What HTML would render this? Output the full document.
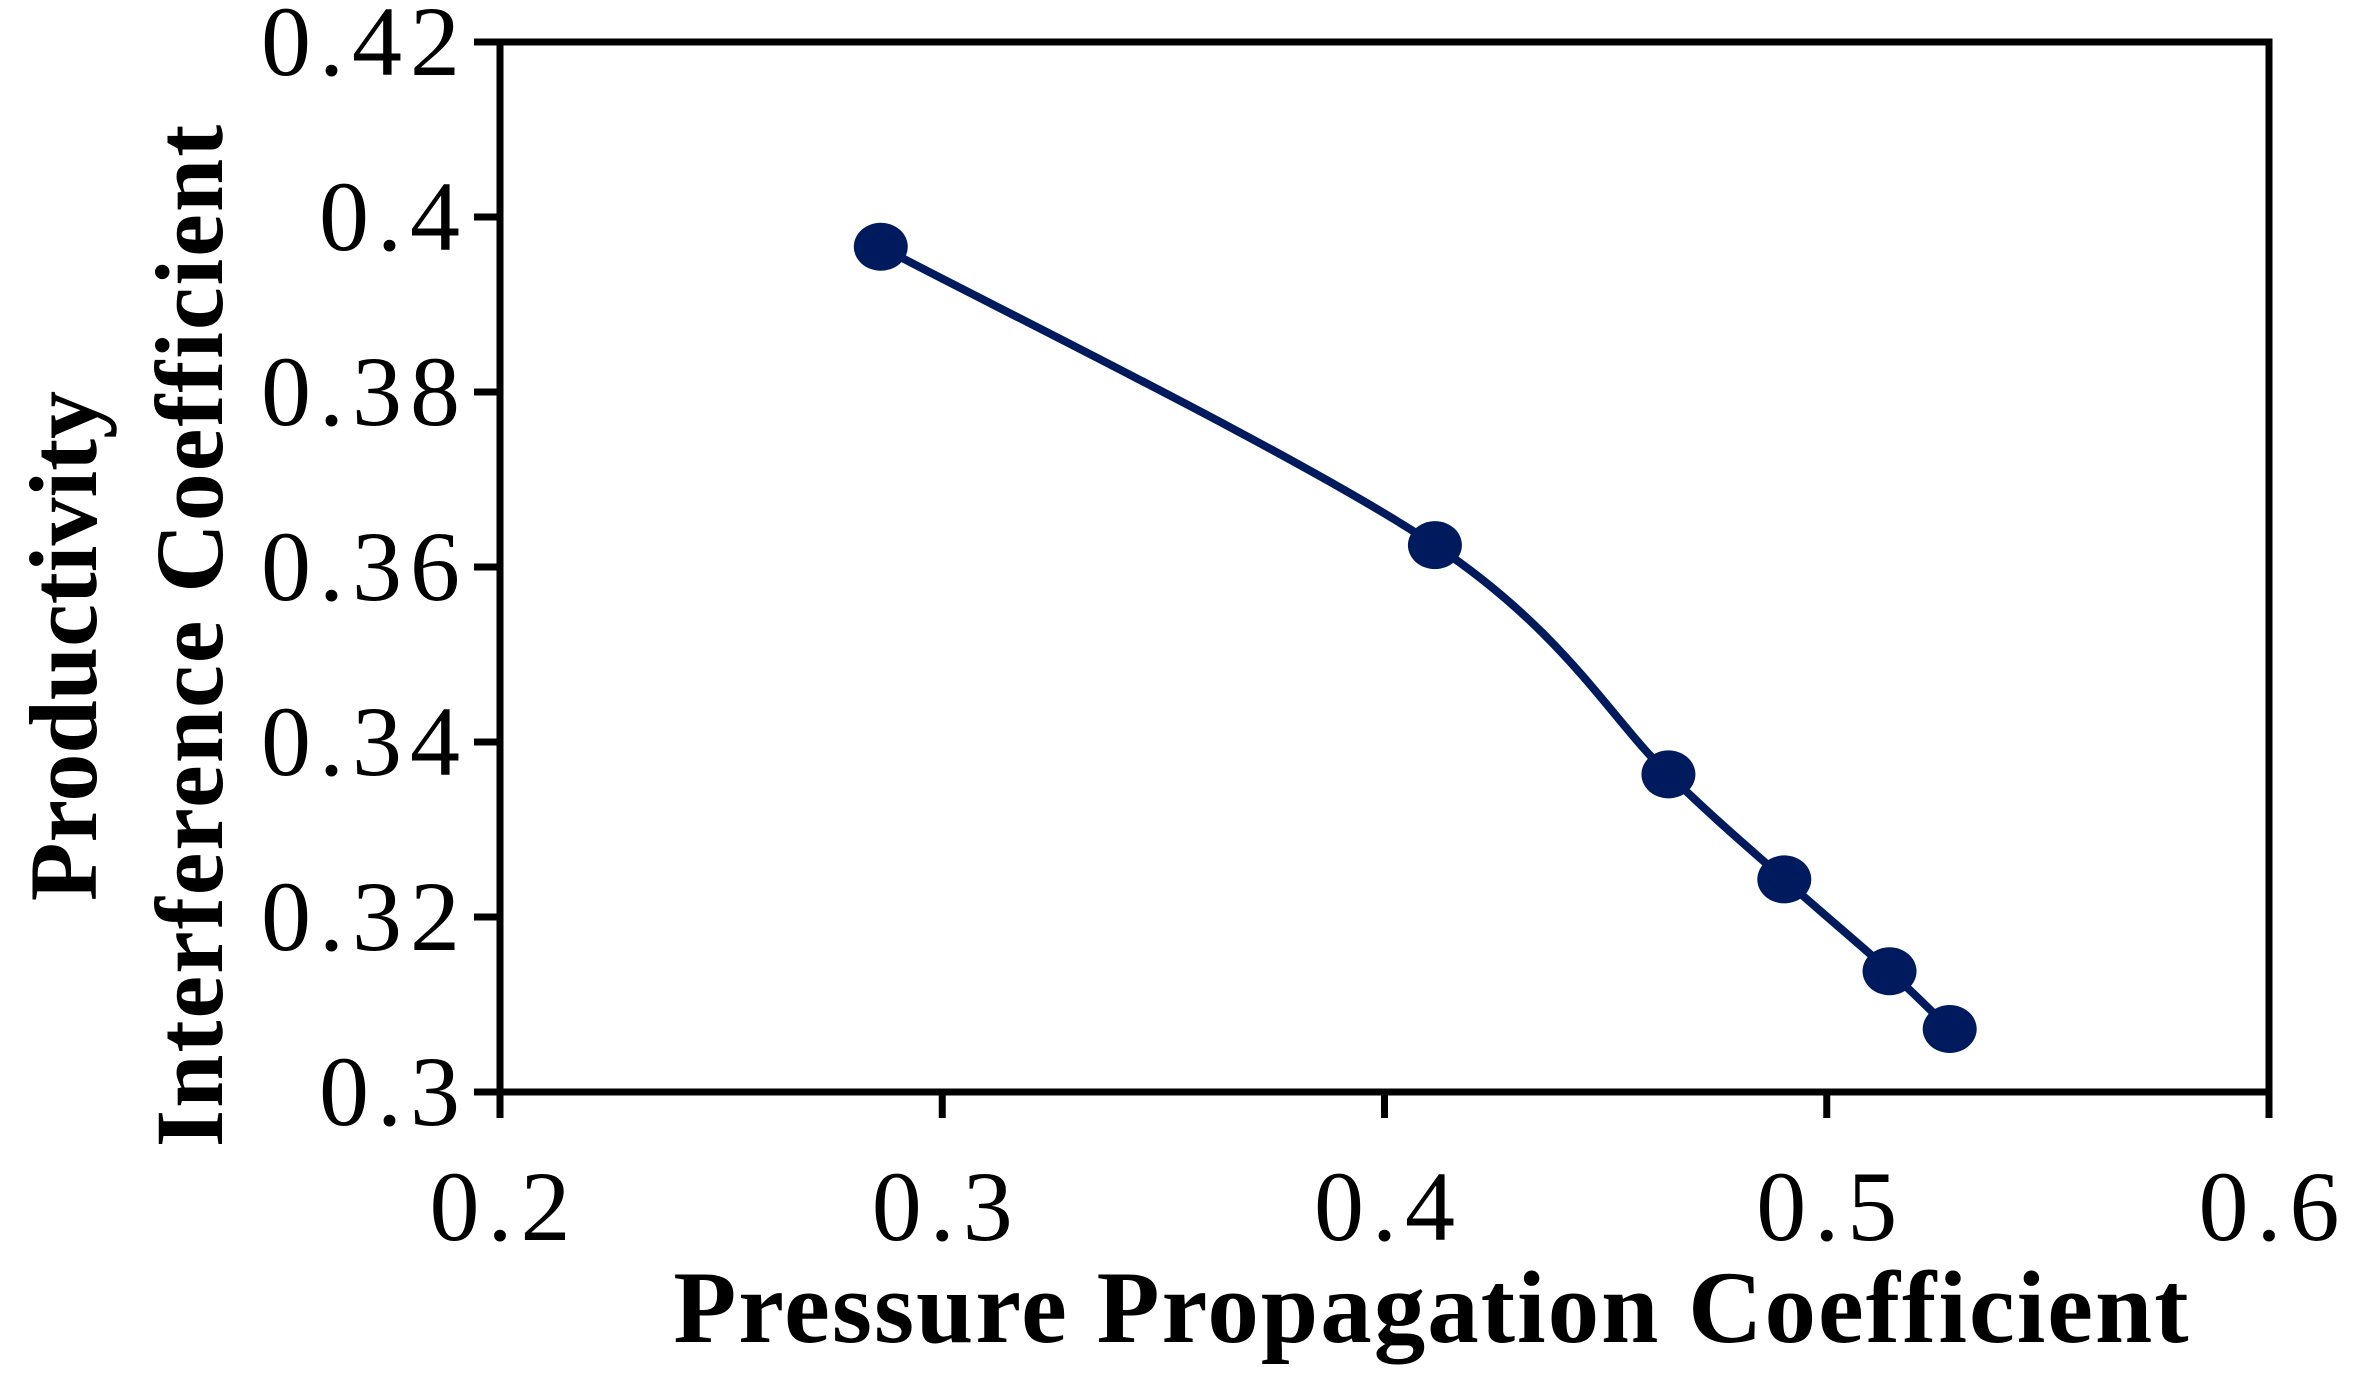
<!DOCTYPE html>
<html><head><meta charset="utf-8"><style>
html,body{margin:0;padding:0;background:#fff;}
svg{display:block;}
</style></head><body>
<svg id="chart" width="2361" height="1386" xmlns="http://www.w3.org/2000/svg" font-family="'Liberation Serif', serif">
<g id="axes"></g>
<g id="series"></g>
<text x="1432" y="1342" text-anchor="middle" font-size="103" font-weight="bold" letter-spacing="2">Pressure Propagation Coefficient</text>
<text transform="translate(96,646) rotate(-90)" text-anchor="middle" font-size="96" font-weight="bold" letter-spacing="0">Productivity</text>
<text transform="translate(222,635) rotate(-90)" text-anchor="middle" font-size="96" font-weight="bold" letter-spacing="2">Interference Coefficient</text>
</svg>
<script>
const xValues = [0.2861, 0.4114, 0.4642, 0.4904, 0.5142, 0.5278];
const yValues = [0.3966, 0.3625, 0.3363, 0.3243, 0.3138, 0.3072];
const xTicks = [0.2, 0.3, 0.4, 0.5, 0.6];
const xTickLabels = ["0.2", "0.3", "0.4", "0.5", "0.6"];
const yTicks = [0.3, 0.32, 0.34, 0.36, 0.38, 0.4, 0.42];
const yTickLabels = ["0.3", "0.32", "0.34", "0.36", "0.38", "0.4", "0.42"];

const L = 500, R = 2269, T = 42, B = 1092;
const xMin = 0.2, xMax = 0.6, yMin = 0.3, yMax = 0.42;
function sx(v){ return L + (v - xMin) / (xMax - xMin) * (R - L); }
function sy(v){ return B - (v - yMin) / (yMax - yMin) * (B - T); }
const NS = "http://www.w3.org/2000/svg";
function mk(tag, attrs, parent){
  const e = document.createElementNS(NS, tag);
  for (const k in attrs) e.setAttribute(k, attrs[k]);
  parent.appendChild(e);
  return e;
}
const axes = document.getElementById('axes');
const series = document.getElementById('series');

const frame = mk('rect', {x:L, y:T, width:R-L, height:B-T, fill:'none', stroke:'#000', 'stroke-width':7}, axes);



xTicks.forEach((v, i) => {
  const t = mk('line', {x1:sx(v), x2:sx(v), y1:B, y2:B+26, stroke:'#000', 'stroke-width':7}, axes);
  
  
  const lb = mk('text', {x:sx(v)+4, y:1240, 'text-anchor':'middle', 'font-size':100, 'letter-spacing':8}, axes);
  lb.textContent = xTickLabels[i];
  
  
});
yTicks.forEach((v, i) => {
  const t = mk('line', {x1:L-26, x2:L, y1:sy(v), y2:sy(v), stroke:'#000', 'stroke-width':7}, axes);
  
  
  const lb = mk('text', {x:468, y:sy(v)+33, 'text-anchor':'end', 'font-size':100, 'letter-spacing':8}, axes);
  lb.textContent = yTickLabels[i];
  
  
});

const pts = xValues.map((x, i) => [sx(x), sy(yValues[i])]);
let d = 'M' + pts[0][0] + ',' + pts[0][1];
for (let i = 0; i < pts.length - 1; i++){
  const p0 = pts[Math.max(0, i-1)], p1 = pts[i], p2 = pts[i+1], p3 = pts[Math.min(pts.length-1, i+2)];
  const c1 = [p1[0] + (p2[0]-p0[0])/6, p1[1] + (p2[1]-p0[1])/6];
  const c2 = [p2[0] - (p3[0]-p1[0])/6, p2[1] - (p3[1]-p1[1])/6];
  d += ' C' + c1[0] + ',' + c1[1] + ' ' + c2[0] + ',' + c2[1] + ' ' + p2[0] + ',' + p2[1];
}
const line = mk('path', {d:d, fill:'none', stroke:'#001a5e', 'stroke-width':8}, series);


pts.forEach(p => {
  const m = mk('ellipse', {cx:p[0], cy:p[1], rx:27, ry:24, fill:'#001a5e'}, series);
  
  
});
</script>
</body></html>
